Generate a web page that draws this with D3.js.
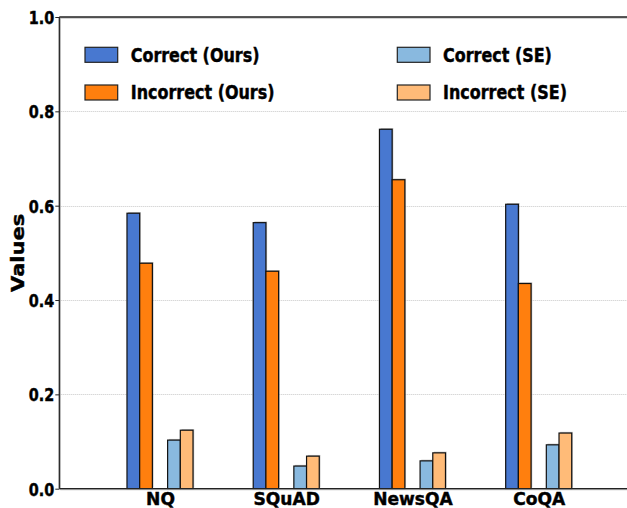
<!DOCTYPE html>
<html>
<head>
<meta charset="utf-8">
<script src="https://cdn.jsdelivr.net/npm/d3@7"></script>
<style>
  body { margin: 0; background: #fff; }
  text { font-family: "DejaVu Sans", sans-serif; font-weight: bold; fill: #000; stroke: #000; stroke-width: 0.45px; }
</style>
</head>
<body>
<div id="chart"></div>
<script>
// data
var datasets = ["NQ", "SQuAD", "NewsQA", "CoQA"];
var seriesNames = ["Correct (Ours)", "Incorrect (Ours)", "Correct (SE)", "Incorrect (SE)"];
var correctOurs = [0.584, 0.564, 0.762, 0.603];
var incorrectOurs = [0.478, 0.461, 0.655, 0.435];
var correctSE = [0.103, 0.048, 0.059, 0.093];
var incorrectSE = [0.124, 0.069, 0.076, 0.118];
var yTicks = [0, 0.2, 0.4, 0.6, 0.8, 1.0];

var colors = ["#4878d0", "#ff7f0e", "#89b9df", "#ffbb78"];
var seriesValues = [correctOurs, incorrectOurs, correctSE, incorrectSE];
// bar offset from group centre, in bar widths
var offsets = [-2.6, -1.6, 0.6, 1.6];
var barW = 12.7;

var svgWidth = 627;
var svgHeight = 508;
var plotLeft = 59.3, plotTop = 17, plotBottom = 488.7;

var svg = d3.select("#chart")
    .append("svg")
    .attr("width", svgWidth)
    .attr("height", svgHeight);

var xScale = d3.scalePoint()
    .domain(datasets)
    .range([160, 538.7]);

var yScale = d3.scaleLinear()
    .domain([0, 1])
    .range([plotBottom, plotTop]);

// grid lines
svg.append("g")
    .selectAll("line")
    .data(yTicks.filter(d => d > 0 && d < 1))
    .enter()
    .append("line")
    .attr("x1", plotLeft)
    .attr("x2", svgWidth)
    .attr("y1", d => Math.round(yScale(d)) + 0.5)
    .attr("y2", d => Math.round(yScale(d)) + 0.5)
    .attr("stroke", "#c8c8c8")
    .attr("stroke-width", 1)
    .attr("stroke-dasharray", "1,1");

// bars
var rows = [];
seriesValues.forEach(function (vals, si) {
    vals.forEach(function (v, i) {
        rows.push({ s: si, cat: datasets[i], value: v });
    });
});

var barG = svg.append("g");
// soft shadow behind each bar
barG.selectAll(".shadow")
    .data(rows)
    .enter()
    .append("rect")
    .attr("x", d => xScale(d.cat) + offsets[d.s] * barW + 1.2)
    .attr("y", d => yScale(d.value) - 1.2)
    .attr("width", barW)
    .attr("height", d => plotBottom - yScale(d.value))
    .attr("fill", "#999")
    .attr("opacity", 0.6);

barG.selectAll(".bar")
    .data(rows)
    .enter()
    .append("rect")
    .attr("x", d => xScale(d.cat) + offsets[d.s] * barW)
    .attr("y", d => yScale(d.value))
    .attr("width", barW)
    .attr("height", d => plotBottom - yScale(d.value))
    .attr("fill", d => colors[d.s])
    .attr("stroke", "#111")
    .attr("stroke-width", 1.2);

// spines
var spines = [
    [plotLeft, plotTop, plotLeft, plotBottom],
    [plotLeft, plotTop, svgWidth, plotTop],
    [plotLeft, plotBottom, svgWidth, plotBottom]
];
svg.append("g").selectAll("line")
    .data(spines)
    .enter()
    .append("line")
    .attr("x1", d => d[0] + 1).attr("y1", d => d[1] + 1)
    .attr("x2", d => d[2] + 1).attr("y2", d => d[3] + 1)
    .attr("stroke", "#aaa")
    .attr("stroke-width", 1);
svg.append("g").selectAll("line")
    .data(spines)
    .enter()
    .append("line")
    .attr("x1", d => d[0]).attr("y1", d => d[1])
    .attr("x2", d => d[2]).attr("y2", d => d[3])
    .attr("stroke", "#222")
    .attr("stroke-width", 1.3);

// y axis
var yAxis = svg.append("g")
    .attr("transform", `translate(${plotLeft}, 0)`)
    .call(d3.axisLeft(yScale).tickValues(yTicks).tickFormat(d3.format(".1f")).tickSize(4));
yAxis.select(".domain").remove();
yAxis.selectAll("line").attr("stroke", "#222");
yAxis.selectAll("text")
    .attr("x", 0)
    .attr("dy", "0.36em")
    .attr("transform", "translate(-5,0) scale(0.8,1)")
    .style("font-family", "DejaVu Sans")
    .style("font-weight", "bold")
    .style("font-size", "18px");

// x axis
var xAxis = svg.append("g")
    .attr("transform", `translate(0, ${plotBottom})`)
    .call(d3.axisBottom(xScale).tickSize(0));
xAxis.select(".domain").remove();
xAxis.selectAll("text")
    .attr("y", 0)
    .attr("dy", 0)
    .attr("transform", "translate(0,16.5) scale(0.95,1)")
    .style("font-family", "DejaVu Sans")
    .style("font-weight", "bold")
    .style("font-size", "18px");

// y label
svg.append("text")
    .attr("transform", `translate(24, ${(plotTop + plotBottom) / 2}) scale(0.87,1) rotate(-90)`)
    .attr("text-anchor", "middle")
    .style("font-size", "21px")
    .text("Values");

// legend (two columns)
var legendPos = [[85, 47.3], [85, 85], [397.3, 47.3], [397.3, 85]];
var legend = svg.append("g").selectAll("g")
    .data(seriesNames)
    .enter()
    .append("g")
    .attr("transform", (d, i) => `translate(${legendPos[i][0]}, ${legendPos[i][1]})`);
legend.append("rect")
    .attr("width", 32.7)
    .attr("height", 15)
    .attr("fill", (d, i) => colors[i])
    .attr("stroke", "#222")
    .attr("stroke-width", 1.2);
legend.append("text")
    .attr("transform", "translate(45.7, 14.4) scale(0.84,1)")
    .style("font-size", "19px")
    .text(d => d);
</script>
</body>
</html>
